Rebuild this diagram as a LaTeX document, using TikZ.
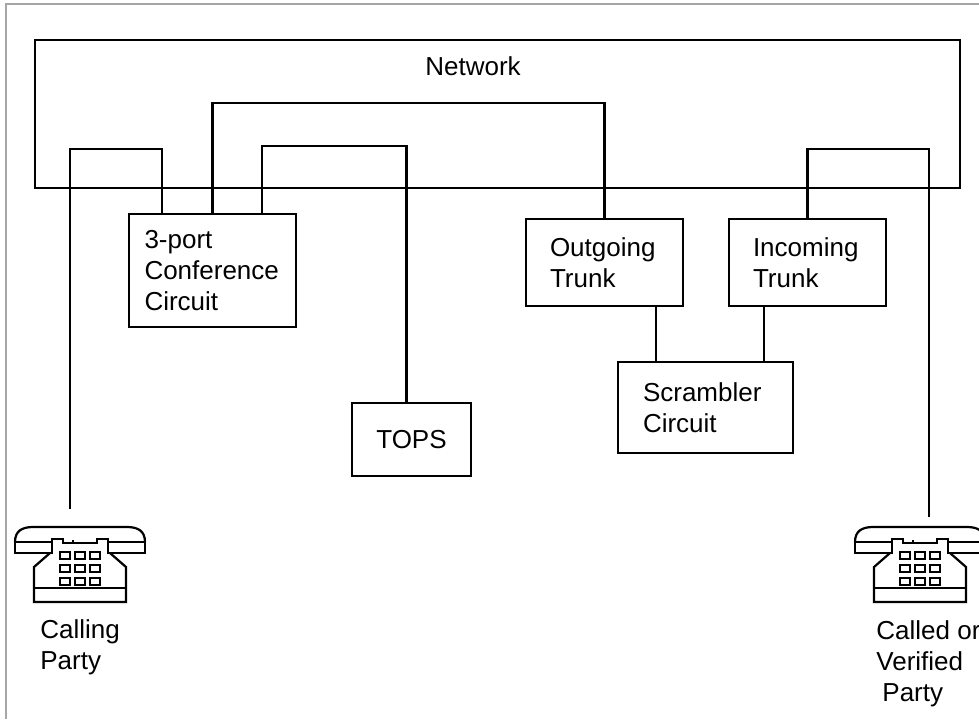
\documentclass[tikz,border=0pt]{standalone}
\usepackage{fontspec}
\setmainfont{Liberation Sans}
\usetikzlibrary{calc}
\def\telset(#1){\begin{scope}[shift={(#1)}, line width=1.1pt]
	\draw (-65,15) .. controls (-65,4) and (-58,0) .. (-47,0) -- (47,0) .. controls (58,0) and (65,4) .. (65,15);
	\draw (-65,15) rectangle (-28,26);
	\draw (28,15) rectangle (65,26);
	\draw (-28,15) -- (-28,12) -- (-17,12) -- (-17,16) -- (17,16) -- (17,12) -- (28,12) -- (28,15);
	\draw (-7,13) -- (-7,16);
	\draw (-30,26) -- (-46,40) -- (-46,75) -- (46,75) -- (46,40) -- (30,26);
	\draw (-46,61) -- (46,61);
	\foreach \kx in {-20,-5,10}
		\foreach \ky in {25,38,51}
			\draw[line width=1.3pt] (\kx,\ky) rectangle ++(10,7);
	\end{scope}}
\tikzset{
	lbl/.style={font=\fontsize{13}{15.5}\selectfont, inner sep=0pt, align=left},
	unit/.style={draw, line width=1.1pt, font=\fontsize{13}{15.5}\selectfont, align=left},
	link/.style={line width=1.1pt},
}

\begin{document}
\begin{tikzpicture}[x=0.5pt, y=-0.5pt]
			%%%%% frame %%%%%
			\useasboundingbox (0,0) rectangle (979,719);
			\draw[gray!70, line width=0.6pt] (6,719) -- (6,4) -- (979,4);
			
			%%%%% network %%%%%
			\node[draw, line width=1.1pt, minimum width=462.5pt, minimum height=74pt] (net) at (497.5,114) {};
			\node[lbl, anchor=base west] (netname) at (425,75) {Network};
			
			%%%%% circuits %%%%%
			\node[unit, text width=68pt, inner xsep=7.75pt, minimum height=56.5pt] (conf) at (212.5,270.5) {3-port\\Conference\\Circuit};
			\node[unit, text width=54.5pt, inner xsep=12pt, minimum height=43.5pt] (outg) at (604.5,262.5) {Outgoing\\Trunk};
			\node[unit, text width=54.5pt, inner xsep=12pt, minimum height=43.5pt] (inc) at (807.5,262.5) {Incoming\\Trunk};
			\node[unit, text width=62.5pt, inner xsep=12.5pt, minimum height=45.5pt] (scr) at (705.5,407.5) {Scrambler\\Circuit};
			\node[unit, align=center, minimum width=59.5pt, minimum height=36.5pt] (tops) at (411.5,439.5) {TOPS};
			
			%%%%% telephones %%%%%
			\telset(80,527)
			\telset(920,527)
			\coordinate (callend) at (70,509);
			\coordinate (calledend) at (929,517);
			\node[lbl, anchor=north west] (callname) at (40,619) {Calling\\Party};
			\node[lbl, anchor=north west] (calledname) at (876,620) {Called or\\Verified\\\hspace{3pt}Party};
			
			%%%%% links %%%%%
			\coordinate (confA) at ($(conf.north west)+(34,0)$);
			\coordinate (confC) at ($(conf.north west)+(134,0)$);
			\coordinate (topsA) at ($(tops.north)+(-5,0)$);
			\coordinate (outB) at ($(outg.south east)+(-28,0)$);
			\coordinate (incB) at ($(inc.south west)+(36,0)$);
			
			\draw[link] (confA) -- ++(0,-64) -| (callend);
			\draw[link] (conf.north) -- ++(0,-110) -| (outg.north);
			\draw[link] (confC) -- ++(0,-67) -| (topsA);
			\draw[link] (inc.north) -- ++(0,-69) -| (calledend);
			\draw[link] (outB) -- (outB |- scr.north);
			\draw[link] (incB) -- (incB |- scr.north);
			
		\end{tikzpicture}
\end{document}
